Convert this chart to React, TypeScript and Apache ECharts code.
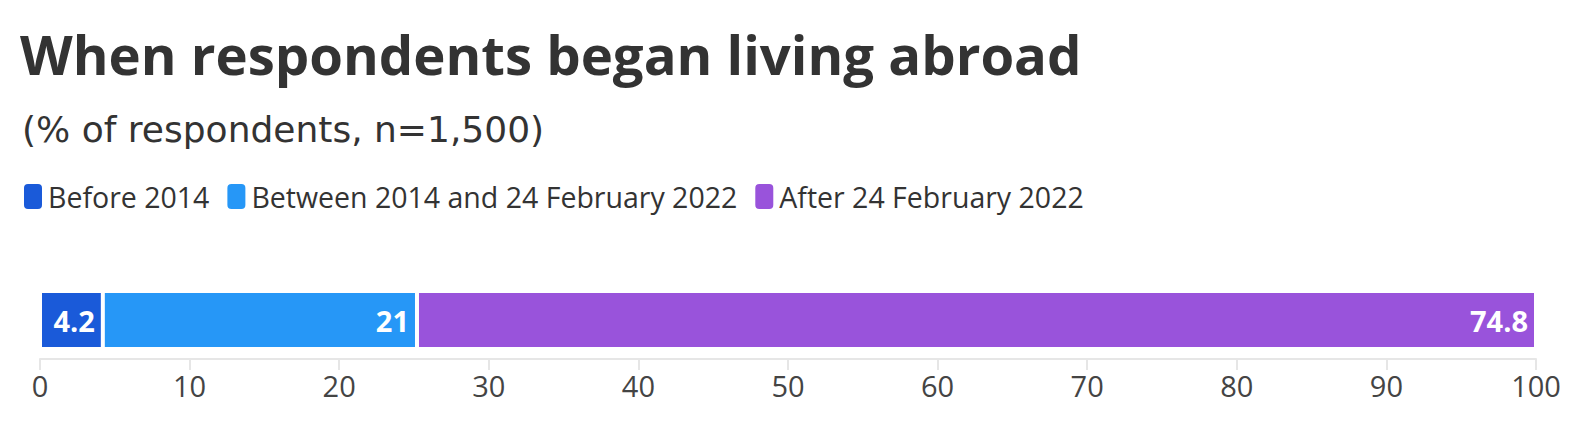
import React, { useEffect, useRef } from "react";
import * as echarts from "echarts";

const categories = ["Respondents"];
const seriesNames = ["Before 2014", "Between 2014 and 24 February 2022", "After 24 February 2022"];
const before2014 = [4.2];
const between = [21];
const after = [74.8];
const xTicks = [0, 10, 20, 30, 40, 50, 60, 70, 80, 90, 100];
const colors = ["#1a5ad9", "#2697f7", "#9953db"];

export default function App() {
  const ref = useRef<HTMLDivElement>(null);
  useEffect(() => {
    document.body.style.margin = "0";
    const chart = echarts.init(ref.current!, null, { renderer: "svg" });
    const values = [before2014, between, after];
    chart.setOption({
      animation: false,
      backgroundColor: "#ffffff",
      title: [
        {
          text: "When respondents began living abroad",
          left: 20,
          top: 26,
          padding: 0,
          textStyle: { fontFamily: "Open Sans", fontWeight: "bold", fontSize: 54.5, color: "#333333" },
        },
        {
          text: "(% of respondents, n=1,500)",
          left: 22,
          top: 111,
          padding: 0,
          textStyle: { fontFamily: "DejaVu Sans", fontWeight: "normal", fontSize: 36, color: "#333333" },
        },
      ],
      legend: {
        left: 22,
        top: 182,
        icon: "roundRect",
        itemWidth: 20,
        itemHeight: 27,
        itemGap: 16,
        padding: 0,
        textStyle: { fontFamily: "Open Sans", fontSize: 28.5, color: "#333333" },
        data: seriesNames,
      },
      grid: { left: 40, right: 54, top: 281, height: 78, containLabel: false },
      xAxis: {
        type: "value",
        min: 0,
        max: 100,
        interval: 10,
        splitLine: { show: false },
        axisLine: { show: true, lineStyle: { color: "#e6e6e6", width: 2 } },
        axisTick: { show: true, length: 11, lineStyle: { color: "#e6e6e6", width: 2 } },
        axisLabel: {
          fontFamily: "Open Sans",
          fontSize: 29,
          color: "#444444",
          margin: 12,
          formatter: (v: number) => (xTicks.includes(v) ? String(v) : ""),
        },
      },
      yAxis: {
        type: "category",
        data: categories,
        axisLine: { show: false },
        axisTick: { show: false },
        axisLabel: { show: false },
      },
      series: seriesNames.map((name, i) => ({
        name,
        type: "bar",
        stack: "total",
        barWidth: 58,
        data: values[i],
        itemStyle: { color: colors[i], borderColor: "#ffffff", borderWidth: 2 },
        label: {
          show: true,
          position: "insideRight",
          distance: 8,
          color: "#ffffff",
          fontFamily: "Open Sans",
          fontWeight: "bold",
          fontSize: 29,
        },
      })),
    });
    return () => chart.dispose();
  }, []);
  return <div ref={ref} style={{ width: 1590, height: 428 }} />;
}
